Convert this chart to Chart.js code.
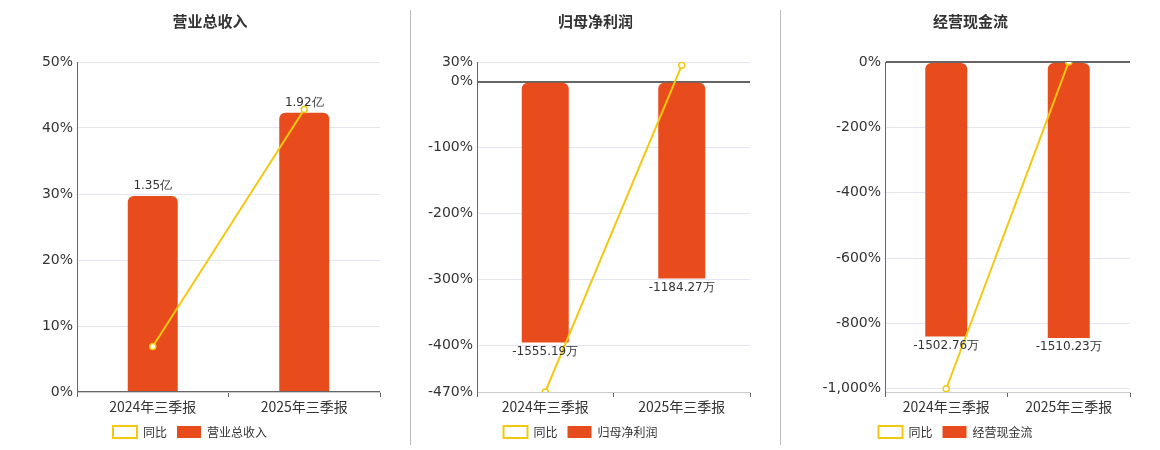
<!DOCTYPE html>
<html lang="zh">
<head>
<meta charset="UTF-8">
<title>财务指标</title>
<style>
  body { margin: 0; width: 1160px; height: 450px; background: #fff; position: relative; font-family: "Noto Sans CJK SC", sans-serif; overflow: hidden; }
  .panel { position: absolute; top: 0; height: 450px; }
  .title { position: absolute; top: 10px; left: 0; right: 0; text-align: center; font-size: 15px; font-weight: bold; color: #333; }
  .divider { position: absolute; top: 10px; height: 435px; width: 1px; background: #bbb; }
</style>
</head>
<body>
  <div class="panel" style="left:0;width:410px"><div class="title" style="left:10px">营业总收入</div><canvas id="c1"></canvas></div>
  <div class="divider" style="left:410px"></div>
  <div class="panel" style="left:411px;width:369px"><div class="title">归母净利润</div><canvas id="c2"></canvas></div>
  <div class="divider" style="left:780px"></div>
  <div class="panel" style="left:781px;width:379px"><div class="title">经营现金流</div><canvas id="c3"></canvas></div>

<script src="https://cdn.jsdelivr.net/npm/chart.js"></script>
<script>
const categories = ['2024年三季报', '2025年三季报'];

const revenueBars = [29.7, 42.3];
const revenueLabels = ['1.35亿', '1.92亿'];
const revenueYoY = [6.9, 42.8];
const revenueTicks = [0, 10, 20, 30, 40, 50];

const profitBars = [-395, -298];
const profitLabels = ['-1555.19万', '-1184.27万'];
const profitYoY = [-470, 25];
const profitTicks = [30, 0, -100, -200, -300, -400, -470];

const cashBars = [-840, -845];
const cashLabels = ['-1502.76万', '-1510.23万'];
const cashYoY = [-1000, 0];
const cashTicks = [0, -200, -400, -600, -800, -1000];

const ORANGE = '#e84c1c';
const YELLOW = '#f2c811';

const barLabelPlugin = {
    id: 'barLabels',
    afterDatasetsDraw(chart) {
        const ctx = chart.ctx;
        const meta = chart.getDatasetMeta(0);
        const labels = chart.options.plugins.barLabels.labels;
        ctx.save();
        ctx.font = '12px "DejaVu Sans", sans-serif';
        ctx.fillStyle = '#333';
        ctx.textAlign = 'center';
        meta.data.forEach((bar, i) => {
            const v = chart.data.datasets[0].data[i];
            if (v >= 0) {
                ctx.textBaseline = 'bottom';
                ctx.fillText(labels[i], bar.x, bar.y - 4);
            } else {
                ctx.textBaseline = 'top';
                ctx.fillText(labels[i], bar.x, bar.y + 3);
            }
        });
        ctx.restore();
    }
};

function makeChart(id, width, name, bars, labels, yoy, ticks, min, max, axisWidth, padRight, barW) {
    const canvas = document.getElementById(id);
    canvas.width = width;
    canvas.height = 450;
    canvas.style.width = width + 'px';
    canvas.style.height = '450px';
    new Chart(canvas, {
        data: {
            labels: categories,
            datasets: [{
                type: 'bar',
                label: name,
                data: bars,
                backgroundColor: ORANGE,
                borderRadius: { topLeft: 6, topRight: 6, bottomLeft: 0, bottomRight: 0 },
                borderSkipped: false,
                maxBarThickness: barW,
                order: 2
            }, {
                type: 'line',
                label: '同比',
                data: yoy,
                borderColor: YELLOW,
                backgroundColor: '#fff',
                borderWidth: 2,
                pointRadius: 3,
                pointBorderWidth: 1.5,
                pointBackgroundColor: '#fff',
                pointBorderColor: YELLOW,
                order: 1
            }]
        },
        options: {
            responsive: false,
            animation: false,
            layout: { padding: { top: 62, right: padRight, bottom: 2, left: 0 } },
            plugins: {
                legend: {
                    position: 'bottom',
                    labels: { boxWidth: 24, boxHeight: 12, padding: 10, color: '#333', font: { size: 12, family: '"Noto Sans CJK SC", sans-serif' } }
                },
                tooltip: { enabled: false },
                barLabels: { labels: labels }
            },
            scales: {
                x: {
                    grid: { drawOnChartArea: false, tickLength: 5, color: '#666' },
                    border: { color: '#ccc' },
                    ticks: { color: '#333', font: { size: 14, family: '"Noto Sans CJK SC", sans-serif' }, padding: 1 },
                    afterFit(s) { s.height = 24; }
                },
                y: {
                    min: min,
                    max: max,
                    afterBuildTicks(s) { s.ticks = ticks.map(v => ({ value: v })); },
                    afterFit(s) { s.width = axisWidth; },
                    grid: {
                        color: c => c.tick && c.tick.value === 0 ? '#666' : '#e3e6f0',
                        lineWidth: c => c.tick && c.tick.value === 0 ? 2 : 1,
                        drawTicks: false
                    },
                    border: { color: '#666', width: 1 },
                    ticks: {
                        color: '#333',
                        padding: 4,
                        font: { size: 14, family: '"DejaVu Sans", sans-serif' },
                        callback: v => v.toLocaleString('en-US') + '%'
                    }
                }
            }
        },
        plugins: [barLabelPlugin]
    });
}

makeChart('c1', 410, '营业总收入', revenueBars, revenueLabels, revenueYoY, revenueTicks, 0, 50, 77, 30, 50);
makeChart('c2', 369, '归母净利润', profitBars, profitLabels, profitYoY, profitTicks, -470, 30, 66, 30, 47);
makeChart('c3', 379, '经营现金流', cashBars, cashLabels, cashYoY, cashTicks, -1010, 0, 104, 30, 42);
</script>
</body>
</html>
